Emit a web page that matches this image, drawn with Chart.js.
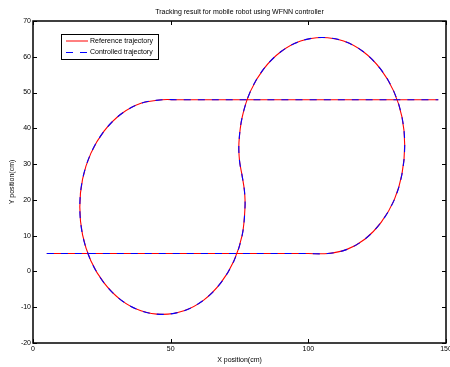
<!DOCTYPE html>
<html>
<head>
<meta charset="utf-8">
<script src="https://cdn.jsdelivr.net/npm/chart.js@4/dist/chart.umd.min.js"></script>
<style>
  body { margin: 0; background: #fff; }
  #wrap { width: 450px; height: 367px; }
</style>
</head>
<body>
<div id="wrap"><canvas id="myChart" width="450" height="367"></canvas></div>
<script>
var titleText = "Tracking result for mobile robot using WFNN controller";
var xLabel = "X position(cm)";
var yLabel = "Y position(cm)";
var xTicks = [0, 50, 100, 150];
var yTicks = [-20, -10, 0, 10, 20, 30, 40, 50, 60, 70];

// reference trajectory
var refX = [5, 60, 100, 107, 113.8, 120.5, 126.5, 131.2, 134.0, 135.0, 134.0, 131.0, 126.2, 120.0, 112.8, 105.0, 97.2, 90.0, 83.8, 79.0, 76.0, 74.8, 75.0, 76.0, 76.8, 77.0, 76.0, 73.0, 68.2, 62.0, 54.8, 47.0, 39.2, 32.0, 25.8, 21.0, 18.0, 17.0, 18.0, 21.0, 25.8, 32.0, 39.2, 47.0, 52, 100, 147.2];
var refY = [5, 5, 5, 5, 6.1, 9.0, 13.8, 20.0, 27.2, 35.4, 43.2, 50.4, 56.6, 61.4, 64.4, 65.4, 64.4, 61.4, 56.6, 50.4, 43.2, 36, 31, 26.5, 22.5, 18.0, 10.2, 3.0, -3.2, -8.0, -11.0, -12.0, -11.0, -8.0, -3.2, 3.0, 10.2, 18.0, 25.8, 33.0, 39.2, 44.0, 47.0, 48.0, 48, 48, 48];

// controlled trajectory, sits on top of the reference
var ctrlX = [5, 60, 100, 107, 113.8, 120.5, 126.5, 131.2, 134.0, 135.0, 134.0, 131.0, 126.2, 120.0, 112.8, 105.0, 97.2, 90.0, 83.8, 79.0, 76.0, 74.8, 75.0, 76.0, 76.8, 77.0, 76.0, 73.0, 68.2, 62.0, 54.8, 47.0, 39.2, 32.0, 25.8, 21.0, 18.0, 17.0, 18.0, 21.0, 25.8, 32.0, 39.2, 47.0, 52, 100, 147.2];
var ctrlY = [5, 5, 5, 5, 6.1, 9.0, 13.8, 20.0, 27.2, 35.4, 43.2, 50.4, 56.6, 61.4, 64.4, 65.4, 64.4, 61.4, 56.6, 50.4, 43.2, 36, 31, 26.5, 22.5, 18.0, 10.2, 3.0, -3.2, -8.0, -11.0, -12.0, -11.0, -8.0, -3.2, 3.0, 10.2, 18.0, 25.8, 33.0, 39.2, 44.0, 47.0, 48.0, 48, 48, 48];

var fontName = "'Liberation Sans', Arial, sans-serif";

function toPoints(xs, ys){
  var pts = [];
  for (var i = 0; i < xs.length; i++) {
    pts.push({x: xs[i], y: ys[i]});
  }
  return pts;
}

// box, inward ticks, title and legend like matlab
var matlabBits = {
  id: 'matlabBits',
  afterDraw: function(chart){
    var ctx = chart.ctx;
    var a = chart.chartArea;
    var xs = chart.scales.x, ys = chart.scales.y;
    ctx.save();
    ctx.strokeStyle = '#000';
    ctx.lineWidth = 1;
    xTicks.forEach(function(v){
      var px = Math.round(xs.getPixelForValue(v)) + 0.5;
      ctx.beginPath();
      ctx.moveTo(px, a.bottom); ctx.lineTo(px, a.bottom - 4);
      ctx.moveTo(px, a.top); ctx.lineTo(px, a.top + 4);
      ctx.stroke();
    });
    yTicks.forEach(function(v){
      var py = Math.round(ys.getPixelForValue(v)) + 0.5;
      ctx.beginPath();
      ctx.moveTo(a.left, py); ctx.lineTo(a.left + 4, py);
      ctx.moveTo(a.right, py); ctx.lineTo(a.right - 4, py);
      ctx.stroke();
    });
    ctx.lineWidth = 1.5;
    ctx.strokeRect(a.left, a.top, a.right - a.left, a.bottom - a.top);

    // title over the axes
    ctx.fillStyle = '#000';
    ctx.font = "7px " + fontName;
    ctx.textAlign = 'center';
    ctx.textBaseline = 'middle';
    ctx.fillText(titleText, (a.left + a.right) / 2, 12);

    // legend box
    ctx.fillStyle = '#fff';
    ctx.fillRect(61, 34, 97, 25);
    ctx.lineWidth = 1;
    ctx.strokeRect(61.5, 34.5, 97, 25);
    var rows = [
      {label: chart.data.datasets[0].label, color: chart.data.datasets[0].borderColor, dash: []},
      {label: chart.data.datasets[1].label, color: chart.data.datasets[1].borderColor, dash: [7, 7]}
    ];
    rows.forEach(function(r, i){
      var y = 41 + i * 11.5;
      ctx.strokeStyle = r.color;
      ctx.setLineDash(r.dash);
      ctx.beginPath();
      ctx.moveTo(66, y); ctx.lineTo(88, y);
      ctx.stroke();
      ctx.setLineDash([]);
      ctx.fillStyle = '#000';
      ctx.textAlign = 'left';
      ctx.fillText(r.label, 90, y);
    });
    ctx.restore();
  }
};

function drawChart(){
  var ctx = document.getElementById('myChart').getContext('2d');
  var chart = new Chart(ctx, {
    type: 'scatter',
    data: {
      datasets: [{
        label: 'Reference trajectory',
        data: toPoints(refX, refY),
        showLine: true,
        borderColor: 'rgb(255, 0, 0)',
        borderWidth: 1.1,
        pointRadius: 0,
        tension: 0.34,
        order: 2
      }, {
        label: 'Controlled trajectory',
        data: toPoints(ctrlX, ctrlY),
        showLine: true,
        borderColor: 'rgb(0, 0, 255)',
        borderWidth: 1.1,
        borderDash: [7, 7],
        pointRadius: 0,
        tension: 0.34,
        order: 1
      }]
    },
    options: {
      responsive: false,
      animation: false,
      layout: { padding: { top: 21, right: 4, left: 0, bottom: 0 } },
      plugins: {
        legend: { display: false },
        title: { display: false },
        tooltip: { enabled: false }
      },
      scales: {
        x: {
          type: 'linear', min: 0, max: 150,
          afterBuildTicks: function(s){ s.ticks = xTicks.map(function(v){ return {value: v}; }); },
          afterFit: function(s){ s.height = 24; s.paddingRight = 0; s.paddingLeft = 0; },
          grid: { display: false, drawTicks: false },
          border: { display: false },
          ticks: { padding: 2, color: '#000', font: { size: 7, family: fontName }, maxRotation: 0 },
          title: { display: true, text: xLabel, color: '#000', font: { size: 7, family: fontName }, padding: { top: 2, bottom: 3 } }
        },
        y: {
          type: 'linear', min: -20, max: 70,
          afterBuildTicks: function(s){ s.ticks = yTicks.map(function(v){ return {value: v}; }); },
          afterFit: function(s){ s.width = 33; s.paddingTop = 0; s.paddingBottom = 0; },
          grid: { display: false, drawTicks: false },
          border: { display: false },
          ticks: { padding: 2, color: '#000', font: { size: 7, family: fontName } },
          title: { display: true, text: yLabel, color: '#000', font: { size: 7, family: fontName }, padding: { top: 8, bottom: 0 } }
        }
      }
    },
    plugins: [matlabBits]
  });
}

window.addEventListener('load', function(){
  drawChart();
});
</script>
</body>
</html>
